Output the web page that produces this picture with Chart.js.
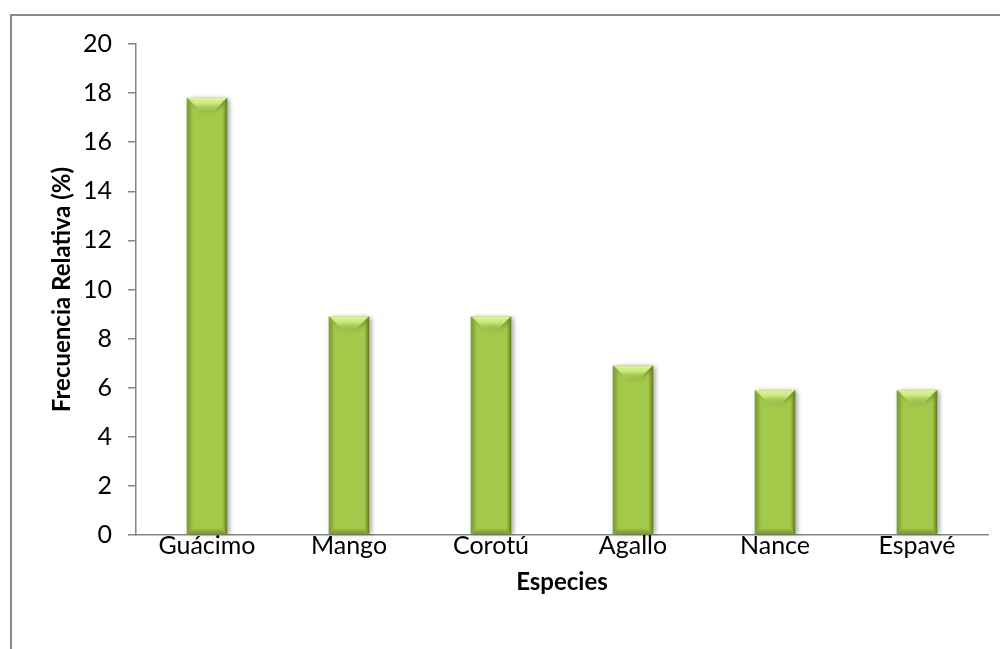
<!DOCTYPE html>
<html>
<head>
<meta charset="utf-8">
<script src="https://cdn.jsdelivr.net/npm/chart.js@4.4.1/dist/chart.umd.min.js"></script>
<style>
  html, body { margin: 0; padding: 0; background: #fff; }
  #wrap { width: 1000px; height: 649px; position: relative; }
</style>
</head>
<body>
<div id="wrap"><canvas id="c" width="1000" height="649"></canvas></div>
<script>
const especies = ['Guácimo', 'Mango', 'Corotú', 'Agallo', 'Nance', 'Espavé'];
const frecuenciaRelativa = [17.8, 8.9, 8.9, 6.9, 5.9, 5.9];
const yTicks = [0, 2, 4, 6, 8, 10, 12, 14, 16, 18, 20];

const FONT = 'Lato, "Open Sans", sans-serif';
const AXIS_GRAY = '#868686';

// Frame around the whole chart area (top and left edges)
const framePlugin = {
  id: 'frame',
  beforeDraw(chart) {
    const ctx = chart.ctx;
    ctx.save();
    ctx.fillStyle = '#8a8a8a';
    ctx.fillRect(10, 14, 990, 2);
    ctx.fillRect(10, 14, 2, 635);
    ctx.restore();
  }
};

// Bevelled look on each bar, using the bar geometry computed by Chart.js
const bevelPlugin = {
  id: 'bevel',
  afterDatasetsDraw(chart) {
    const ctx = chart.ctx;
    const meta = chart.getDatasetMeta(0);
    meta.data.forEach(bar => {
      const p = bar.getProps(['x', 'y', 'base', 'width'], true);
      const l = p.x - p.width / 2, r = p.x + p.width / 2;
      const t = p.y, b = p.base;
      const bv = 13;
      const sb = 5;
      ctx.save();
      // top facet
      let g = ctx.createLinearGradient(0, t, 0, t + bv);
      g.addColorStop(0, '#dff5a0');
      g.addColorStop(0.45, '#c8e878');
      g.addColorStop(1, 'rgba(175,215,85,0.3)');
      ctx.fillStyle = g;
      ctx.beginPath();
      ctx.moveTo(l + 1, t); ctx.lineTo(r - 1, t); ctx.lineTo(r - bv, t + bv); ctx.lineTo(l + bv, t + bv);
      ctx.closePath(); ctx.fill();
      // bottom facet
      g = ctx.createLinearGradient(0, b - sb, 0, b);
      g.addColorStop(0, 'rgba(90,115,30,0.15)');
      g.addColorStop(1, 'rgba(90,115,30,0.5)');
      ctx.fillStyle = g;
      ctx.beginPath();
      ctx.moveTo(l, b); ctx.lineTo(r, b); ctx.lineTo(r - sb, b - sb); ctx.lineTo(l + sb, b - sb);
      ctx.closePath(); ctx.fill();
      // left facet
      g = ctx.createLinearGradient(l, 0, l + sb, 0);
      g.addColorStop(0, 'rgba(105,135,35,0.65)');
      g.addColorStop(1, 'rgba(105,135,35,0)');
      ctx.fillStyle = g;
      ctx.beginPath();
      ctx.moveTo(l, t); ctx.lineTo(l + sb, t + sb); ctx.lineTo(l + sb, b - sb); ctx.lineTo(l, b);
      ctx.closePath(); ctx.fill();
      // right facet
      g = ctx.createLinearGradient(r - sb, 0, r, 0);
      g.addColorStop(0, 'rgba(85,110,25,0)');
      g.addColorStop(1, 'rgba(85,110,25,0.8)');
      ctx.fillStyle = g;
      ctx.beginPath();
      ctx.moveTo(r, t); ctx.lineTo(r - sb, t + sb); ctx.lineTo(r - sb, b - sb); ctx.lineTo(r, b);
      ctx.closePath(); ctx.fill();
      ctx.restore();
    });
  }
};

function barFill(context) {
  const chart = context.chart;
  const el = context.element;
  if (!chart.chartArea || !el) return '#a3c94b';
  const p = el.getProps(['x', 'width'], true);
  if (!isFinite(p.x) || !isFinite(p.width)) return '#a3c94b';
  const l = p.x - p.width / 2, r = p.x + p.width / 2;
  const g = chart.ctx.createLinearGradient(l, 0, r, 0);
  g.addColorStop(0, '#93ba3c');
  g.addColorStop(0.2, '#a6cf4a');
  g.addColorStop(0.5, '#a9d24d');
  g.addColorStop(0.8, '#a2c947');
  g.addColorStop(1, '#8aae37');
  return g;
}

new Chart(document.getElementById('c'), {
  type: 'bar',
  data: {
    labels: especies,
    datasets: [{
      data: frecuenciaRelativa,
      backgroundColor: barFill,
      borderWidth: 0,
      barPercentage: 1,
      categoryPercentage: 0.285
    }]
  },
  plugins: [framePlugin, bevelPlugin, {
    id: 'barShadow',
    beforeDatasetsDraw(chart) {
      const ctx = chart.ctx;
      ctx.save();
      ctx.shadowColor = 'rgba(0,0,0,0.28)';
      ctx.shadowBlur = 5;
      ctx.shadowOffsetX = 2;
      ctx.shadowOffsetY = 1;
    },
    afterDatasetsDraw(chart) {
      chart.ctx.restore();
    }
  }],
  options: {
    responsive: false,
    animation: false,
    devicePixelRatio: 1,
    layout: { padding: { left: 0, top: 44, right: 12, bottom: 0 } },
    plugins: {
      legend: { display: false },
      tooltip: { enabled: false }
    },
    scales: {
      x: {
        afterFit(scale) { scale.height = 114; },
        grid: { display: false, drawTicks: false },
        border: { display: true, color: AXIS_GRAY, width: 1.5 },
        ticks: { color: '#000', font: { family: FONT, size: 25, lineHeight: 1 }, padding: -2 },
        title: {
          display: true,
          text: 'Especies',
          color: '#000',
          font: { family: FONT, size: 24, weight: 'bold' },
          padding: { top: 0, bottom: 52 }
        }
      },
      y: {
        min: 0,
        max: 20,
        afterFit(scale) { scale.width = 136; },
        afterBuildTicks(scale) { scale.ticks = yTicks.map(v => ({ value: v })); },
        grid: { drawOnChartArea: false, drawTicks: true, tickLength: 8, color: AXIS_GRAY, lineWidth: 1.5 },
        border: { display: true, color: AXIS_GRAY, width: 1.5 },
        ticks: { color: '#000', font: { family: FONT, size: 25 }, padding: 16 },
        title: {
          display: true,
          text: 'Frecuencia Relativa (%)',
          color: '#000',
          font: { family: FONT, size: 24, weight: 'bold' },
          padding: { top: 48, bottom: 0 }
        }
      }
    }
  }
});
</script>
</body>
</html>
